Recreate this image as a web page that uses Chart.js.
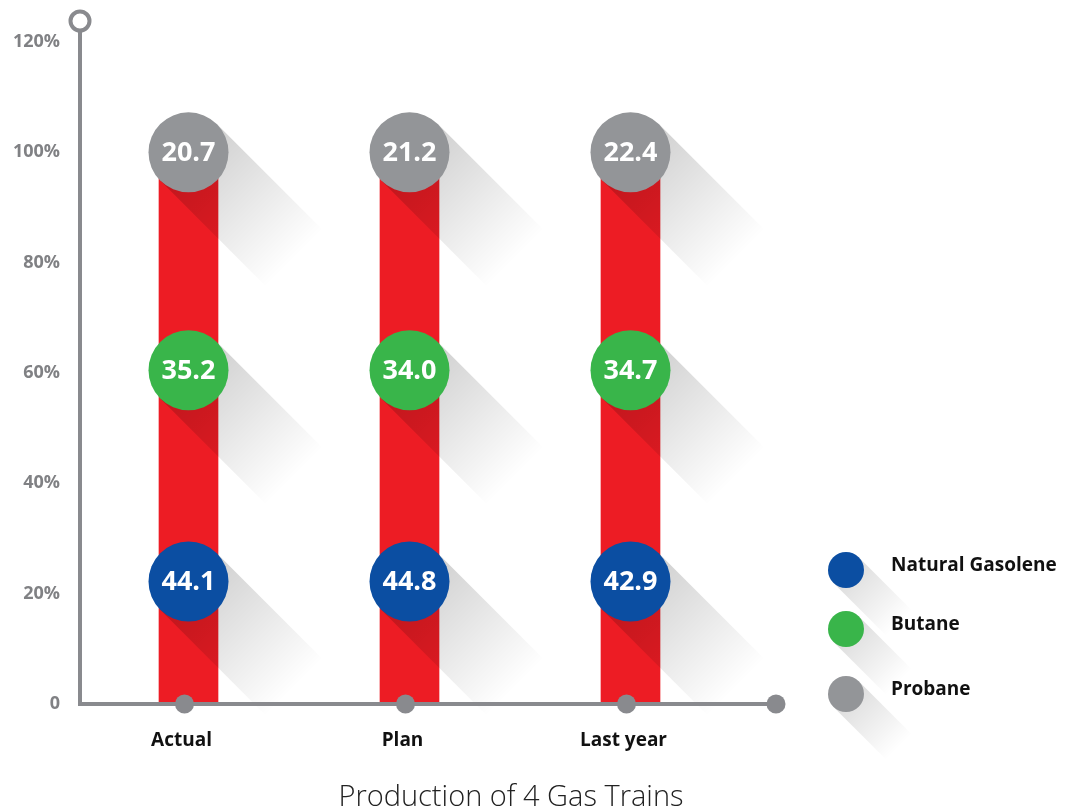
<!DOCTYPE html>
<html>
<head>
<meta charset="utf-8">
<title>Production of 4 Gas Trains</title>
<script src="https://cdn.jsdelivr.net/npm/chart.js@4"></script>
<style>
    html, body { margin: 0; padding: 0; background: #fff; }
    #wrap { width: 1066px; height: 811px; position: relative; }
</style>
</head>
<body>
<div id="wrap"><canvas id="myChart"></canvas></div>
<script>
// Data
var categories = ["Actual", "Plan", "Last year"];
var seriesNames = ["Natural Gasolene", "Butane", "Probane"];
var naturalGasolene = [44.1, 44.8, 42.9];
var butane = [35.2, 34.0, 34.7];
var probane = [20.7, 21.2, 22.4];
var barTotals = [100, 100, 100];
// level (in %) where each series marker sits on the bars
var markerLevels = [22.2, 60.5, 100];
var yTicks = [0, 20, 40, 60, 80, 100, 120];
var chartTitle = "Production of 4 Gas Trains";

var seriesValues = [naturalGasolene, butane, probane];
var colours = ["#0B4EA2", "#39B54A", "#939598"];
var axisGrey = "#898A8E";
var font = "'Open Sans', 'Noto Sans', sans-serif";

// Long diagonal shadow behind a circle
function drawShadow(ctx, x, y, r, len, alpha) {
    ctx.save();
    ctx.translate(x, y);
    ctx.rotate(Math.PI / 4);
    var g = ctx.createLinearGradient(0, 0, len, 0);
    g.addColorStop(0, "rgba(0,0,0," + alpha + ")");
    g.addColorStop(1, "rgba(0,0,0,0)");
    ctx.fillStyle = g;
    ctx.fillRect(0, -r, len, 2 * r);
    ctx.restore();
}

function circle(ctx, x, y, r) {
    ctx.beginPath();
    ctx.arc(x, y, r, 0, Math.PI * 2);
}

// Shadows go over the red bars but under the markers
var shadowPlugin = {
    id: "shadows",
    afterDatasetDraw(chart, args) {
        if (args.index !== 0) return;
        var ctx = chart.ctx;
        for (var d = 1; d < chart.data.datasets.length; d++) {
            chart.getDatasetMeta(d).data.forEach(function (pt) {
                drawShadow(ctx, pt.x, pt.y, pt.options.radius, 150, 0.19);
            });
        }
    }
};

// Axes, value labels, legend and title
var decorPlugin = {
    id: "decor",
    afterDatasetsDraw(chart) {
        var ctx = chart.ctx;
        var area = chart.chartArea;
        var x0 = chart.scales.x;

        ctx.save();
        ctx.strokeStyle = axisGrey;
        ctx.lineWidth = 4;
        // y axis with open circle on top
        ctx.beginPath();
        ctx.moveTo(80, area.bottom);
        ctx.lineTo(80, 31);
        ctx.stroke();
        circle(ctx, 80, 21, 9.5);
        ctx.fillStyle = "#fff";
        ctx.fill();
        ctx.stroke();
        // x axis
        ctx.beginPath();
        ctx.moveTo(78, area.bottom);
        ctx.lineTo(776, area.bottom);
        ctx.stroke();
        ctx.fillStyle = axisGrey;
        categories.forEach(function (c, i) {
            circle(ctx, x0.getPixelForValue(i) - 4, area.bottom, 9.5);
            ctx.fill();
        });
        circle(ctx, 776, area.bottom, 9.5);
        ctx.fill();

        // values inside markers
        ctx.fillStyle = "#fff";
        ctx.font = "bold 27px " + font;
        ctx.textAlign = "center";
        ctx.textBaseline = "middle";
        for (var d = 1; d < chart.data.datasets.length; d++) {
            chart.getDatasetMeta(d).data.forEach(function (pt, i) {
                ctx.fillText(seriesValues[d - 1][i].toFixed(1), pt.x, pt.y + 1);
            });
        }

        // legend
        var legendY = [570, 629, 694];
        seriesNames.forEach(function (name, i) {
            drawShadow(ctx, 846, legendY[i], 18, 75, 0.14);
        });
        seriesNames.forEach(function (name, i) {
            circle(ctx, 846, legendY[i], 18);
            ctx.fillStyle = colours[i];
            ctx.fill();
            ctx.fillStyle = "#111";
            ctx.font = "bold 19px " + font;
            ctx.textAlign = "left";
            ctx.fillText(name, 891, legendY[i] - 4);
        });

        // title
        ctx.fillStyle = "#222";
        ctx.font = "300 29px " + font;
        ctx.textAlign = "center";
        ctx.fillText(chartTitle, 511, 798);
        ctx.restore();
    }
};

var datasets = [{
    type: "bar",
    label: "Total",
    data: barTotals,
    backgroundColor: "#ED1C24",
    borderWidth: 0,
    barThickness: 59,
    order: 10
}];
seriesNames.forEach(function (name, i) {
    datasets.push({
        type: "line",
        label: name,
        data: categories.map(function () { return markerLevels[i]; }),
        showLine: false,
        pointRadius: 40,
        pointHoverRadius: 40,
        pointBorderWidth: 0,
        pointBackgroundColor: colours[i],
        backgroundColor: colours[i],
        order: 1
    });
});

var config = {
    type: "bar",
    data: { labels: categories, datasets: datasets },
    options: {
        responsive: true,
        maintainAspectRatio: false,
        animation: false,
        events: [],
        layout: { padding: { top: 42, right: 325, left: 0, bottom: 0 } },
        plugins: {
            legend: { display: false },
            tooltip: { enabled: false },
            title: { display: false }
        },
        scales: {
            x: {
                offset: true,
                grid: { display: false, drawTicks: false },
                border: { display: false },
                ticks: {
                    color: "#111",
                    font: { family: font, size: 19, weight: "bold" },
                    padding: 25,
                    labelOffset: -7,
                    maxRotation: 0
                },
                afterFit(scale) { scale.height = 107; }
            },
            y: {
                min: 0,
                max: 120,
                grid: { display: false, drawTicks: false },
                border: { display: false },
                afterBuildTicks(scale) {
                    scale.ticks = yTicks.map(function (v) { return { value: v }; });
                },
                ticks: {
                    color: "#808184",
                    font: { family: font, size: 18, weight: "bold" },
                    padding: 18,
                    callback: function (v) { return v === 0 ? "0" : v + "%"; }
                },
                afterFit(scale) { scale.width = 78; }
            }
        }
    },
    plugins: [shadowPlugin, decorPlugin]
};

var myChart = new Chart(document.getElementById("myChart"), config);
</script>
</body>
</html>
